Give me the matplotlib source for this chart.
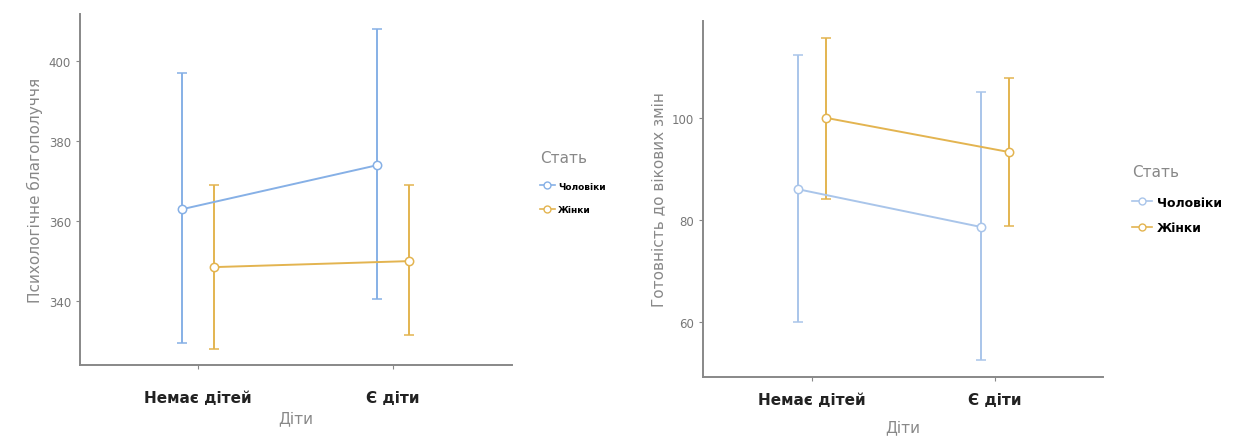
import numpy as np
import matplotlib.pyplot as plt
from matplotlib.lines import Line2D

# data
groups = ['Немає дітей', 'Є діти']
series = ['Чоловіки', 'Жінки']

wellbeing_men = [363, 374]
wellbeing_men_lo = [329.5, 340.5]
wellbeing_men_hi = [397, 408]
wellbeing_women = [348.5, 350]
wellbeing_women_lo = [328, 331.5]
wellbeing_women_hi = [369, 369]

ready_men = [86, 78.6]
ready_men_lo = [60, 52.6]
ready_men_hi = [112.4, 105.1]
ready_women = [100, 93.3]
ready_women_lo = [84.1, 78.8]
ready_women_hi = [115.7, 107.8]

blue = '#86b0e6'
blue_pale = '#a9c5ea'
orange = '#e3b450'


def draw_panel(ax, means, los, his, colors, dodge, ylabel, yticks, ylim, xlim, xpad):
    x = np.arange(len(groups))
    for k in range(len(series)):
        xs = x + (dodge if k == 1 else -dodge)
        m = np.array(means[k])
        err = [m - np.array(los[k]), np.array(his[k]) - m]
        ax.errorbar(xs, m, yerr=err, color=colors[k], lw=1.4, capsize=3.5,
                    capthick=1.4, marker='o', ms=6, mfc='white', mec=colors[k],
                    mew=1.1, zorder=3)
    ax.set_xlim(*xlim)
    ax.set_ylim(*ylim)
    ax.set_xticks(x)
    ax.set_xticklabels(groups, fontsize=11, fontweight='bold', color='#222222')
    ax.set_yticks(yticks)
    ax.tick_params(axis='y', labelsize=8.5, labelcolor='#777777', color='#888888', length=3)
    ax.tick_params(axis='x', color='#888888', length=3, pad=xpad)
    ax.set_xlabel('Діти', fontsize=11, color='#888888')
    ax.set_ylabel(ylabel, fontsize=11, color='#888888')
    for s in ['top', 'right']:
        ax.spines[s].set_visible(False)
    for s in ['left', 'bottom']:
        ax.spines[s].set_color('#888888')
        ax.spines[s].set_linewidth(1.4)


def add_legend(ax, colors, anchor, fontsize, spacing):
    handles = [Line2D([], [], color=c, lw=1.2, marker='o', ms=5, mfc='white', mec=c)
               for c in colors]
    leg = ax.legend(handles, series, title='Стать', loc='upper left',
                    bbox_to_anchor=anchor, frameon=False, fontsize=fontsize,
                    title_fontsize=11, handlelength=1.6, handletextpad=0.4,
                    labelspacing=spacing)
    leg.get_title().set_color('#888888')
    leg._legend_box.align = 'left'
    leg._legend_box.sep = 12
    for t in leg.get_texts():
        t.set_fontweight('bold')
    return leg


fig = plt.figure(figsize=(12.33, 4.39), dpi=100)
ax1 = fig.add_axes([0.0649, 0.166, 0.3504, 0.800])
ax2 = fig.add_axes([0.5702, 0.139, 0.3244, 0.811])

draw_panel(ax1, [wellbeing_men, wellbeing_women],
           [wellbeing_men_lo, wellbeing_women_lo],
           [wellbeing_men_hi, wellbeing_women_hi],
           [blue, orange], 0.08, 'Психологічне благополуччя',
           [340, 360, 380, 400], (324, 411.8), (-0.605, 1.61), 15)
draw_panel(ax2, [ready_men, ready_women],
           [ready_men_lo, ready_women_lo],
           [ready_men_hi, ready_women_hi],
           [blue_pale, orange], 0.076, 'Готовність до вікових змін',
           [60, 80, 100], (49.2, 119), (-0.596, 1.59), 8)

ax1.xaxis.set_label_coords(0.5, -0.128)
ax2.xaxis.set_label_coords(0.5, -0.12)

add_legend(ax1, [blue, orange], (1.046, 0.636), 6.5, 1.6)
add_legend(ax2, [blue_pale, orange], (1.045, 0.63), 9, 1.0)

fig.savefig('out.png', dpi=100, facecolor='white')
